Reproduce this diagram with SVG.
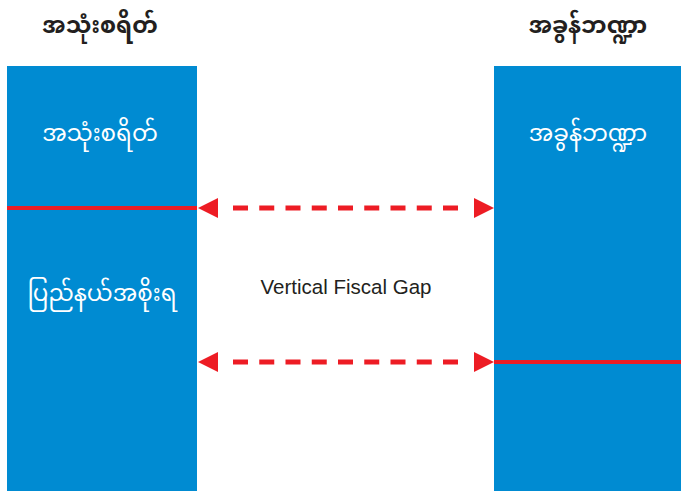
<svg xmlns="http://www.w3.org/2000/svg" width="681" height="491" viewBox="0 0 681 491">
<defs>
<style>
.bar{fill:#008bd2}
.red{stroke:#ed1c24;stroke-width:4;fill:none}
.dash{stroke:#ed1c24;stroke-width:5;fill:none;stroke-dasharray:15 11.25}
.head{fill:#ed1c24}
.mm{font-family:"Noto Sans Myanmar","Padauk","Myanmar Text",sans-serif;font-size:23px;text-anchor:middle}
.hd{fill:#231f20;font-weight:bold}
.wt{fill:#ffffff}
.lbl{font-family:"Liberation Sans",Arial,sans-serif;font-size:20.5px;fill:#231f20;text-anchor:middle}
</style>
</defs>
<rect width="681" height="491" fill="#ffffff"/>
<g id="left">
<rect class="bar" x="7" y="66" width="190" height="425"/>
<text class="mm hd" x="100" y="33">အသုံးစရိတ်</text>
<text class="mm wt" x="100" y="141">အသုံးစရိတ်</text>
<text class="mm wt" x="102" y="301">ပြည်နယ်အစိုးရ</text>
<line class="red" x1="7" y1="208" x2="197" y2="208"/>
</g>
<g id="right">
<rect class="bar" x="494" y="66" width="187" height="425"/>
<text class="mm hd" x="588" y="33">အခွန်ဘဏ္ဍာ</text>
<text class="mm wt" x="588" y="141">အခွန်ဘဏ္ဍာ</text>
<line class="red" x1="494" y1="362" x2="681" y2="362"/>
</g>
<g id="gap">
<text class="lbl" x="346" y="294">Vertical Fiscal Gap</text>
</g>
<g id="connectors">
<line class="dash" x1="233" y1="208" x2="459" y2="208"/>
<polygon class="head" points="198,208 218,198 218,218"/>
<polygon class="head" points="494,208 474,198 474,218"/>
<line class="dash" x1="233" y1="362" x2="459" y2="362"/>
<polygon class="head" points="198,362 218,352 218,372"/>
<polygon class="head" points="494,362 474,352 474,372"/>
</g>
</svg>
